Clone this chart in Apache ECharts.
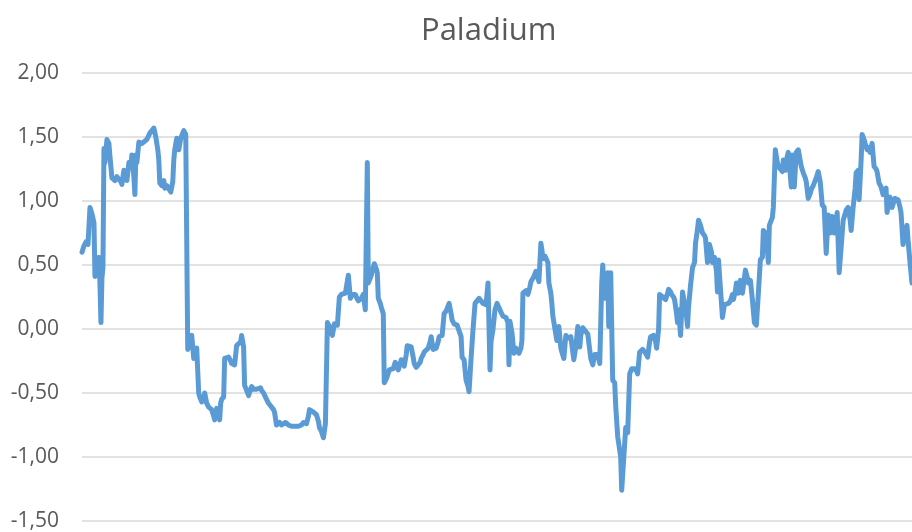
<!DOCTYPE html>
<html>
<head>
<meta charset="utf-8">
<script src="https://cdn.jsdelivr.net/npm/echarts@6/dist/echarts.min.js"></script>
<style>
  html, body { margin: 0; padding: 0; background: #fff; }
  #chart { width: 912px; height: 532px; }
</style>
</head>
<body>
<div id="chart"></div>
<script>
// trading-day index and value
const days = [
    0, 2, 4, 6, 8, 10, 12, 13, 15, 17,
    18, 19, 20, 21, 22, 23, 25, 27, 28, 30,
    33, 35, 37, 39, 40, 42, 44, 45, 47, 49,
    50, 52, 53, 54, 55, 57, 59, 60, 62, 65,
    68, 70, 72, 74, 76, 77, 78, 80, 82, 83,
    85, 87, 89, 91, 92, 93, 95, 97, 99, 100,
    102, 104, 105, 106, 108, 110, 112, 114, 115, 117,
    118, 120, 122, 123, 125, 127, 129, 130, 132, 133,
    135, 137, 138, 139, 140, 142, 143, 145, 147, 149,
    150, 152, 153, 155, 157, 159, 160, 162, 163, 165,
    167, 169, 170, 172, 173, 175, 177, 179, 180, 182,
    183, 185, 187, 189, 190, 192, 193, 195, 197, 198,
    200, 202, 204, 205, 207, 208, 210, 212, 214, 215,
    217, 218, 220, 222, 224, 225, 227, 228, 230, 232,
    234, 235, 237, 238, 240, 242, 244, 246, 248, 250,
    251, 253, 255, 256, 258, 260, 262, 264, 265, 267,
    269, 271, 272, 274, 275, 277, 278, 280, 282, 284,
    286, 287, 289, 290, 292, 293, 295, 296, 297, 299,
    300, 302, 303, 305, 306, 308, 310, 312, 314, 316,
    317, 319, 320, 322, 323, 325, 326, 328, 330, 332,
    333, 335, 337, 339, 340, 342, 343, 345, 347, 349,
    350, 352, 354, 355, 357, 358, 360, 361, 363, 365,
    366, 368, 370, 371, 373, 374, 376, 378, 380, 381,
    383, 385, 387, 388, 390, 392, 394, 396, 398, 400,
    402, 404, 405, 407, 409, 410, 412, 414, 416, 417,
    419, 420, 422, 425, 427, 428, 429, 431, 433, 435,
    436, 438, 440, 441, 442, 444, 445, 447, 449, 450,
    452, 453, 455, 456, 458, 460, 461, 462, 464, 465,
    467, 468, 470, 471, 472, 474, 476, 478, 480, 481,
    483, 485, 487, 488, 490, 491, 493, 495, 497, 499,
    500, 502, 504, 505, 507, 508, 510, 512, 514, 515,
    517, 519, 521, 522, 524, 526, 527, 528, 530, 532,
    534, 535, 537, 539, 540, 541, 543, 545, 547, 549,
    551, 552, 554, 556, 557, 559, 560, 562, 563, 565,
    567, 569, 570, 572, 573, 575, 576, 578, 579, 581,
    582, 584, 585, 587, 588, 590, 591, 593, 594, 596,
    597, 598, 600, 602, 604, 605, 607, 608, 610, 612,
    614, 615, 617, 618, 620, 622, 624, 625, 627, 629,
    631, 632, 634, 636, 637, 638, 640, 642, 644, 646,
    648, 650, 652, 653, 655, 656, 658, 660, 662, 664,
    665, 667, 668, 670, 672, 674, 676, 677, 678, 680,
    682, 683, 685, 686, 688, 689, 691, 692, 693, 695,
    697, 698, 700, 702, 703, 705, 707, 708, 710, 711,
    712, 714, 716, 718, 719, 721, 723, 725, 726, 728,
    730, 731, 733, 734, 736, 738, 740, 742, 744, 746,
    748, 750, 752, 754, 756, 757, 759, 761, 763, 765,
    766, 768, 770, 771, 773, 775, 776, 778, 779, 781,
    782, 784, 785, 787, 788, 790, 792, 794, 796, 797,
    799, 801, 803, 805, 806, 807, 809, 810, 812, 814,
    815, 817, 818, 820, 821, 823, 825, 827, 828, 830, 832
];

const values = [
    0.60, 0.65, 0.68, 0.66, 0.95, 0.90, 0.83, 0.41, 0.50, 0.56,
    0.35, 0.05, 0.40, 0.48, 1.41, 1.30, 1.48, 1.45, 1.35, 1.18,
    1.16, 1.19, 1.20, 1.15, 1.13, 1.24, 1.20, 1.16, 1.30, 1.28,
    1.36, 1.19, 1.05, 1.36, 1.30, 1.46, 1.47, 1.45, 1.45, 1.48,
    1.53, 1.55, 1.57, 1.50, 1.40, 1.32, 1.14, 1.12, 1.16, 1.10,
    1.12, 1.13, 1.07, 1.15, 1.32, 1.40, 1.49, 1.40, 1.49, 1.50,
    1.55, 1.52, 1.52, -0.16, -0.09, -0.05, -0.23, -0.17, -0.15, -0.50,
    -0.53, -0.57, -0.55, -0.50, -0.58, -0.61, -0.60, -0.63, -0.68, -0.71,
    -0.62, -0.65, -0.71, -0.58, -0.55, -0.53, -0.23, -0.22, -0.22, -0.25,
    -0.27, -0.26, -0.28, -0.13, -0.14, -0.10, -0.05, -0.14, -0.44, -0.48,
    -0.52, -0.47, -0.45, -0.47, -0.46, -0.47, -0.48, -0.46, -0.48, -0.50,
    -0.50, -0.55, -0.58, -0.60, -0.61, -0.63, -0.65, -0.75, -0.74, -0.73,
    -0.75, -0.75, -0.73, -0.73, -0.75, -0.75, -0.76, -0.77, -0.76, -0.77,
    -0.76, -0.77, -0.75, -0.73, -0.74, -0.74, -0.68, -0.63, -0.64, -0.65,
    -0.66, -0.67, -0.72, -0.77, -0.80, -0.85, -0.74, 0.05, 0.02, -0.03,
    -0.05, 0.04, 0.04, 0.03, 0.25, 0.27, 0.28, 0.28, 0.29, 0.42,
    0.24, 0.27, 0.28, 0.27, 0.25, 0.22, 0.21, 0.24, 0.27, 0.15,
    1.30, 0.36, 0.40, 0.42, 0.48, 0.51, 0.47, 0.44, 0.24, 0.20,
    0.17, 0.12, -0.42, -0.39, -0.37, -0.32, -0.33, -0.31, -0.26, -0.30,
    -0.32, -0.27, -0.24, -0.27, -0.29, -0.20, -0.13, -0.14, -0.14, -0.22,
    -0.27, -0.30, -0.31, -0.26, -0.23, -0.20, -0.18, -0.17, -0.15, -0.10,
    -0.06, -0.16, -0.15, -0.15, -0.10, -0.06, -0.06, -0.05, 0.12, 0.14,
    0.15, 0.20, 0.12, 0.07, 0.04, 0.03, 0.03, 0.03, -0.06, -0.22,
    -0.24, -0.40, -0.45, -0.49, -0.23, 0.00, 0.20, 0.22, 0.24, 0.22,
    0.20, 0.19, 0.19, 0.36, -0.32, -0.10, 0.00, 0.15, 0.20, 0.21,
    0.15, 0.13, 0.10, 0.09, 0.05, -0.28, 0.06, -0.03, -0.19, -0.15,
    -0.14, -0.19, -0.15, -0.09, 0.28, 0.29, 0.30, 0.27, 0.33, 0.37,
    0.38, 0.41, 0.45, 0.46, 0.37, 0.67, 0.62, 0.55, 0.57, 0.58,
    0.52, 0.36, 0.28, 0.20, 0.10, 0.11, -0.09, 0.02, -0.15, -0.18,
    -0.23, -0.05, -0.07, -0.07, -0.06, -0.06, -0.24, -0.14, 0.02, -0.14,
    -0.05, 0.01, -0.01, -0.02, -0.04, -0.05, -0.23, -0.28, -0.20, -0.20,
    -0.20, -0.27, 0.36, 0.50, 0.24, 0.40, 0.44, 0.02, 0.44, -0.40,
    -0.42, -0.60, -0.84, -0.84, -1.00, -1.26, -1.26, -0.77, -0.81, -0.35,
    -0.31, -0.30, -0.31, -0.33, -0.35, -0.18, -0.19, -0.16, -0.15, -0.19,
    -0.22, -0.10, -0.06, -0.05, -0.05, -0.10, -0.15, 0.00, 0.27, 0.26,
    0.25, 0.24, 0.23, 0.28, 0.31, 0.29, 0.27, 0.25, 0.23, 0.12,
    0.05, 0.15, -0.05, 0.29, 0.20, 0.17, 0.02, 0.17, 0.34, 0.48,
    0.52, 0.67, 0.78, 0.85, 0.81, 0.75, 0.73, 0.71, 0.52, 0.66,
    0.60, 0.52, 0.56, 0.45, 0.29, 0.54, 0.55, 0.09, 0.19, 0.20,
    0.20, 0.22, 0.27, 0.23, 0.30, 0.36, 0.28, 0.38, 0.28, 0.40,
    0.46, 0.40, 0.36, 0.38, 0.23, 0.05, 0.03, 0.03, 0.28, 0.54,
    0.56, 0.77, 0.75, 0.72, 0.52, 0.81, 0.85, 0.87, 0.95, 1.40,
    1.30, 1.27, 1.26, 1.23, 1.32, 1.24, 1.35, 1.38, 1.38, 1.11,
    1.36, 1.11, 1.38, 1.40, 1.41, 1.27, 1.22, 1.18, 1.15, 1.02,
    1.06, 1.09, 1.12, 1.13, 1.18, 1.23, 1.15, 0.97, 0.95, 0.59,
    0.89, 0.75, 0.88, 0.75, 0.85, 0.91, 0.44, 0.64, 0.85, 0.90,
    0.93, 0.95, 0.85, 0.77, 0.95, 1.10, 1.22, 1.24, 1.01, 1.32,
    1.52, 1.48, 1.45, 1.40, 1.42, 1.38, 1.45, 1.27, 1.25, 1.23,
    1.14, 1.11, 1.05, 1.08, 1.10, 0.91, 1.00, 1.03, 0.95, 1.00,
    1.02, 1.01, 1.01, 0.95, 0.91, 0.66, 0.75, 0.81, 0.70, 0.52, 0.36
];

const yTicks = { min: -1.5, max: 2, step: 0.5 };

const chart = echarts.init(document.getElementById('chart'), null, { renderer: 'canvas' });

chart.setOption({
    animation: false,
    backgroundColor: '#ffffff',
    textStyle: { fontFamily: '"Open Sans", "Noto Sans", sans-serif' },
    title: {
        text: 'Paladium',
        left: 416,
        top: 11,
        textStyle: { fontSize: 31, fontWeight: 'normal', color: '#595959', fontFamily: '"Open Sans", sans-serif' }
    },
    grid: { left: 82, right: 0, top: 73, bottom: 11, containLabel: false },
    xAxis: {
        type: 'value',
        min: 0,
        max: days[days.length - 1],
        show: false
    },
    yAxis: {
        type: 'value',
        min: yTicks.min,
        max: yTicks.max,
        interval: yTicks.step,
        axisLine: { show: false },
        axisTick: { show: false },
        splitLine: { lineStyle: { color: '#d9d9d9', width: 1.5 } },
        axisLabel: {
            color: '#595959',
            fontSize: 21,
            margin: 23,
            formatter: v => v.toFixed(2).replace('.', ',')
        }
    },
    series: [{
        type: 'line',
        data: days.map((d, i) => [d, values[i]]),
        symbol: 'none',
        clip: false,
        lineStyle: { color: '#5b9bd5', width: 5, join: 'round', cap: 'round' }
    }]
});
</script>
</body>
</html>
